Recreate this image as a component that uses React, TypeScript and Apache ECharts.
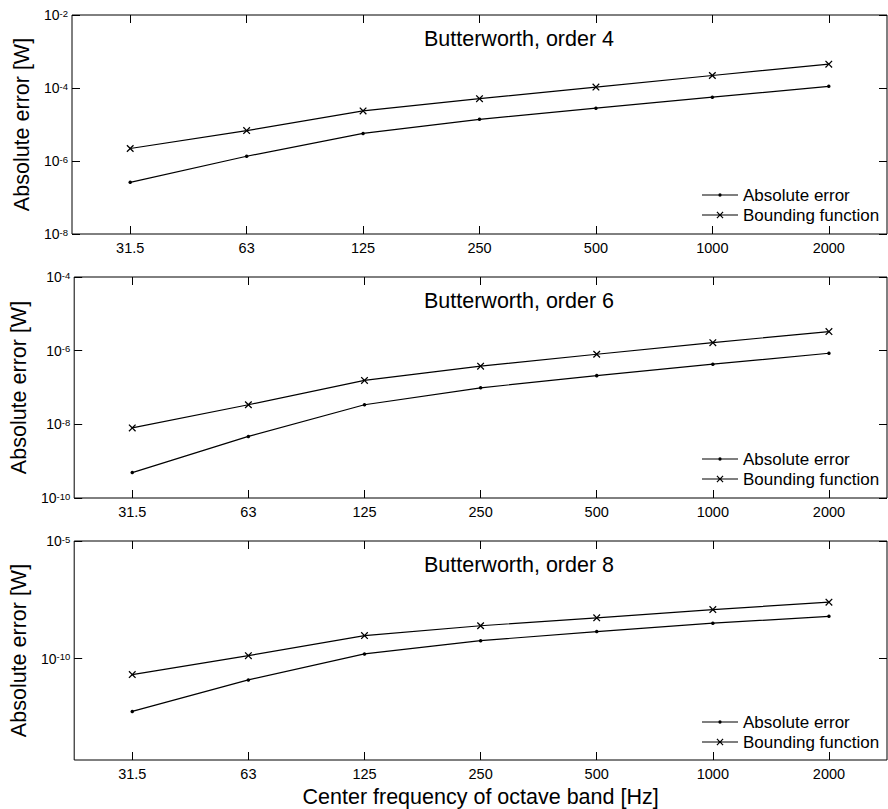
import React, { useEffect, useRef } from "react";
import * as echarts from "echarts";

// Octave band centre frequencies (x axis categories)
const frequencies = ["31.5", "63", "125", "250", "500", "1000", "2000"];

// Butterworth, order 4
const order4Error = [2.6e-7, 1.35e-6, 5.7e-6, 1.39e-5, 2.8e-5, 5.6e-5, 1.11e-4];
const order4Bound = [2.2e-6, 6.8e-6, 2.35e-5, 5.1e-5, 1.06e-4, 2.2e-4, 4.5e-4];

// Butterworth, order 6
const order6Error = [4.9e-10, 4.7e-9, 3.4e-8, 9.8e-8, 2.1e-7, 4.3e-7, 8.5e-7];
const order6Bound = [8.0e-9, 3.4e-8, 1.56e-7, 3.8e-7, 8.0e-7, 1.65e-6, 3.3e-6];

// Butterworth, order 8
const order8Error = [5.7e-13, 1.24e-11, 1.58e-10, 5.8e-10, 1.41e-9, 3.2e-9, 6.3e-9];
const order8Bound = [2.1e-11, 1.34e-10, 9.5e-10, 2.5e-9, 5.4e-9, 1.22e-8, 2.5e-8];

// Decade exponents shown as y tick labels (10^n)
const order4Ticks = [-8, -6, -4, -2];
const order6Ticks = [-10, -8, -6, -4];
const order8Ticks = [-10, -5];

// Decade range of each panel's y axis [min, max]
const order4Range = [-8, -2];
const order6Range = [-10, -4];
const order8Range = [-14.31, -5];

const panelTitles = ["Butterworth, order 4", "Butterworth, order 6", "Butterworth, order 8"];
const seriesNames = ["Absolute error", "Bounding function"];

const FONT = "'Liberation Sans', Arial, Helvetica, sans-serif";

const DOT_SYMBOL = "circle";
const X_SYMBOL =
  "path://M1.2,0L5,3.8L8.8,0L10,1.2L6.2,5L10,8.8L8.8,10L5,6.2L1.2,10L0,8.8L3.8,5L0,1.2Z";
const DOT_ICON =
  "path://M0,4.5H36V5.5H0Z M16.3,5A1.7,1.7 0 1 1 19.7,5A1.7,1.7 0 1 1 16.3,5Z";
const X_ICON =
  "path://M0,4.5H36V5.5H0Z M15.34,1.5L18,4.16L20.66,1.5L21.5,2.34L18.84,5L21.5,7.66L20.66,8.5L18,5.84L15.34,8.5L14.5,7.66L17.16,5L14.5,2.34Z";

const panels = [
  { title: panelTitles[0], error: order4Error, bound: order4Bound, ticks: order4Ticks, range: order4Range, top: 15, height: 219 },
  { title: panelTitles[1], error: order6Error, bound: order6Bound, ticks: order6Ticks, range: order6Range, top: 277, height: 221 },
  { title: panelTitles[2], error: order8Error, bound: order8Bound, ticks: order8Ticks, range: order8Range, top: 541, height: 220 },
];

const GRID_LEFT = 72;
const GRID_WIDTH = 815;

function buildOption(): echarts.EChartsCoreOption {
  const grid: any[] = [];
  const xAxis: any[] = [];
  const yAxis: any[] = [];
  const series: any[] = [];
  const legend: any[] = [];
  const graphic: any[] = [];

  const tickStyle = { show: true, inside: true, length: 8, lineStyle: { color: "#000", width: 1 } };

  panels.forEach((p) => {
    grid.push({
      left: GRID_LEFT,
      top: p.top,
      width: GRID_WIDTH,
      height: p.height,
      show: true,
      borderColor: "#000",
      borderWidth: 1,
      backgroundColor: "#fff",
      containLabel: false,
    });
  });

  // bottom x axes (labels)
  panels.forEach((p, i) => {
    const isLast = i === panels.length - 1;
    xAxis.push({
      type: "category",
      gridIndex: i,
      position: "bottom",
      data: frequencies,
      boundaryGap: true,
      axisLine: { show: false },
      axisTick: { ...tickStyle, alignWithLabel: true },
      axisLabel: { color: "#000", fontSize: 14.5, fontFamily: FONT, margin: 6, interval: 0 },
      splitLine: { show: false },
      name: isLast ? "Center frequency of octave band [Hz]" : "",
      nameLocation: "middle",
      nameGap: 26,
      nameTextStyle: { color: "#000", fontSize: 21.5, fontFamily: FONT, verticalAlign: "top" },
    });
  });
  // top x axes (ticks only)
  panels.forEach((p, i) => {
    xAxis.push({
      type: "category",
      gridIndex: i,
      position: "top",
      data: frequencies,
      boundaryGap: true,
      axisLine: { show: false },
      axisTick: { ...tickStyle, alignWithLabel: true },
      axisLabel: { show: false },
      splitLine: { show: false },
    });
  });

  const expLabel = (v: number) => `{b|10}{e|${Math.round(v)}}`;

  // left y axes (labels)
  panels.forEach((p, i) => {
    yAxis.push({
      type: "value",
      gridIndex: i,
      position: "left",
      min: p.range[0],
      max: p.range[1],
      axisLine: { show: false },
      axisTick: { ...tickStyle, customValues: p.ticks },
      splitLine: { show: false },
      axisLabel: {
        customValues: p.ticks,
        showMinLabel: true,
        showMaxLabel: true,
        margin: 4,
        formatter: expLabel,
        rich: {
          b: { fontSize: 14, lineHeight: 14, fontFamily: FONT, color: "#000", verticalAlign: "bottom", padding: [4, 0, 0, 0] },
          e: { fontSize: 9.5, lineHeight: 10, fontFamily: FONT, color: "#000", verticalAlign: "top" },
        },
      },
      name: "Absolute error [W]",
      nameLocation: "middle",
      nameGap: 38,
      nameRotate: 90,
      nameTextStyle: { color: "#000", fontSize: 21.5, fontFamily: FONT },
    });
  });
  // right y axes (ticks only)
  panels.forEach((p, i) => {
    yAxis.push({
      type: "value",
      gridIndex: i,
      position: "right",
      min: p.range[0],
      max: p.range[1],
      axisLine: { show: false },
      axisTick: { ...tickStyle, customValues: p.ticks },
      axisLabel: { show: false, customValues: p.ticks },
      splitLine: { show: false },
    });
  });

  panels.forEach((p, i) => {
    series.push({
      type: "line",
      name: seriesNames[0],
      xAxisIndex: i,
      yAxisIndex: i,
      data: p.error.map((v) => Math.log10(v)),
      symbol: DOT_SYMBOL,
      symbolSize: 3.5,
      lineStyle: { color: "#000", width: 1.2 },
      itemStyle: { color: "#000" },
      silent: true,
      z: 3,
    });
    series.push({
      type: "line",
      name: seriesNames[1],
      xAxisIndex: i,
      yAxisIndex: i,
      data: p.bound.map((v) => Math.log10(v)),
      symbol: X_SYMBOL,
      symbolSize: 7.5,
      lineStyle: { color: "#000", width: 1.2 },
      itemStyle: { color: "#000" },
      silent: true,
      z: 3,
    });

    const gridBottom = p.top + p.height;
    legend.push({
      orient: "vertical",
      left: 702,
      top: gridBottom - 39 - 8.5,
      padding: 0,
      itemWidth: 36,
      itemHeight: 10,
      itemGap: 3,
      selectedMode: false,
      itemStyle: { borderWidth: 0 },
      textStyle: { color: "#000", fontSize: 17, fontFamily: FONT },
      data: [
        { name: seriesNames[0], icon: DOT_ICON },
        { name: seriesNames[1], icon: X_ICON },
      ],
    });

    graphic.push({
      type: "text",
      x: 519,
      y: p.top + 24,
      silent: true,
      style: {
        text: p.title,
        fill: "#000",
        fontSize: 21.5,
        fontFamily: FONT,
        align: "center",
        verticalAlign: "middle",
      },
    });
  });

  return {
    animation: false,
    backgroundColor: "#fff",
    textStyle: { fontFamily: FONT },
    grid,
    xAxis,
    yAxis,
    series,
    legend,
    graphic,
  };
}

export default function App() {
  const ref = useRef<HTMLDivElement>(null);

  useEffect(() => {
    if (!ref.current) return;
    const chart = echarts.init(ref.current, undefined, { renderer: "svg" });
    chart.setOption(buildOption());
    return () => chart.dispose();
  }, []);

  return (
    <div
      ref={ref}
      style={{ position: "fixed", left: 0, top: 0, width: 888, height: 809, background: "#fff" }}
    />
  );
}
